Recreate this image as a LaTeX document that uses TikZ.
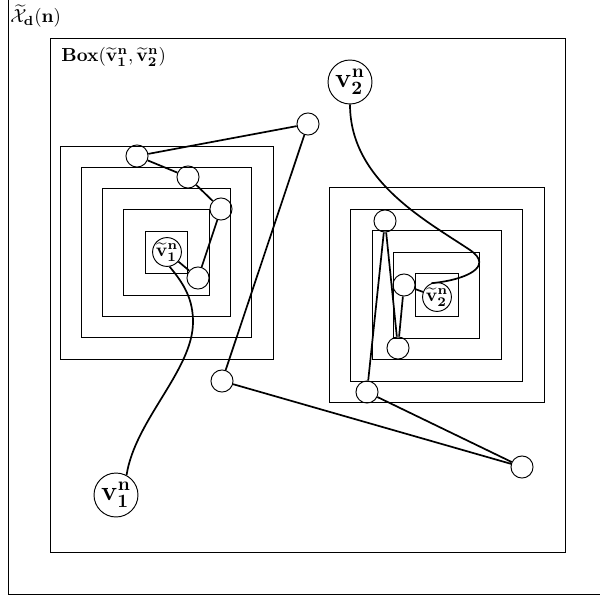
\documentclass[tikz,border=0pt]{standalone}
\usepackage{amsmath}
\begin{document}
\begin{tikzpicture}[x=0.53pt,y=-0.53pt,
  frame/.style={line width=0.5pt},
  sq/.style={line width=0.45pt},
  link/.style={line width=0.9pt},
  dot/.style={circle,draw,line width=0.5pt,inner sep=0pt,minimum size=11.7pt},
  big/.style={circle,draw,line width=0.5pt,inner sep=0pt,minimum size=23.3pt,font=\Large},
  tnode/.style={circle,draw,line width=0.5pt,inner sep=0pt,minimum size=14.3pt,font=\normalsize}]
\useasboundingbox (0,0) rectangle (600,600);
\clip (0,0) rectangle (600,600);
% frames
\draw[frame] (8,-5) rectangle (610,594);
\draw[frame] (50,38) rectangle (565,552);
\node[anchor=north west,inner sep=0pt] (xlab) at (10,4) {$\widetilde{\mathcal{X}}_{\mathbf{d}}(\mathbf{n})$};
\node[anchor=west,inner sep=0pt,font=\normalsize] (boxlab) at (61,57) {$\mathbf{Box}(\widetilde{\mathbf{v}}^{\mathbf{n}}_{\mathbf{1}},\widetilde{\mathbf{v}}^{\mathbf{n}}_{\mathbf{2}})$};
% nested squares
\foreach \h in {21.3,42.6,63.9,85.2,106.5}
  \draw[sq] (166.5-\h,252.5-\h) rectangle (166.5+\h,252.5+\h);
\foreach \h in {21.5,43,64.5,86,107.5}
  \draw[sq] (436.5-\h,295-\h) rectangle (436.5+\h,295+\h);
% nodes
\node[big] (v1) at (116,495) {$\mathbf{v}^{\mathbf{n}}_{\mathbf{1}}$};
\node[big] (v2) at (350,82) {$\mathbf{v}^{\mathbf{n}}_{\mathbf{2}}$};
\node[tnode] (tv1) at (167,252) {$\widetilde{\mathbf{v}}^{\mathbf{n}}_{\mathbf{1}}$};
\node[tnode] (tv2) at (437,297) {$\widetilde{\mathbf{v}}^{\mathbf{n}}_{\mathbf{2}}$};
\node[dot] (c1) at (137,156) {};
\node[dot] (c2) at (188,177) {};
\node[dot] (c3) at (221,209) {};
\node[dot] (c4) at (198,278) {};
\node[dot] (t) at (308,124) {};
\node[dot] (f) at (222,381) {};
\node[dot] (e) at (522,467) {};
\node[dot] (d1) at (385,221) {};
\node[dot] (d2) at (404,285) {};
\node[dot] (d3) at (398,348) {};
\node[dot] (d4) at (367,392) {};
% straight connectors
\draw[link] (tv1) -- (c4) -- (c3) -- (c2) -- (c1) -- (t) -- (f) -- (e) -- (d4) -- (d1) -- (d3) -- (d2) -- (tv2);
% curves
\draw[link] (tv1.-80) .. controls (185,285) and (193,300) .. (193,322)
  .. controls (193,370) and (135,420) .. (v1.62);
\draw[link] (v2.south) .. controls (350,180) and (425,220) .. (470,250)
  .. controls (495,267) and (465,280) .. (tv2.112);
\end{tikzpicture}
\end{document}
